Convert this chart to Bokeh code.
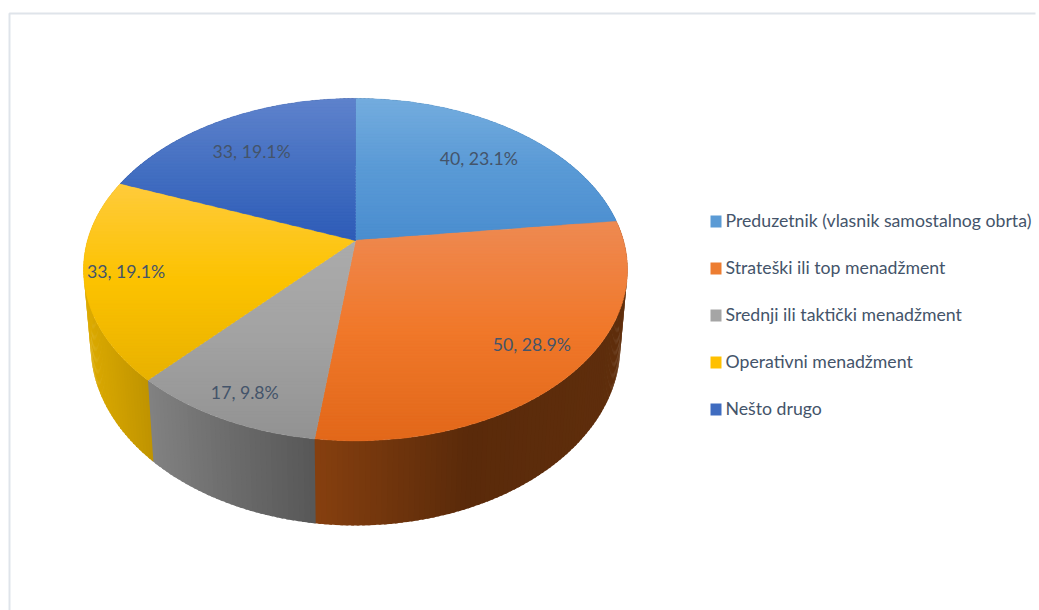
import math
from bokeh.plotting import figure
from bokeh.models import Range1d
from bokeh.core.properties import value
from bokeh.embed import file_html
from bokeh.resources import INLINE

# ---- data ----
categories = ["Preduzetnik (vlasnik samostalnog obrta)", "Strateški ili top menadžment",
              "Srednji ili taktički menadžment", "Operativni menadžment", "Nešto drugo"]
counts = [40, 50, 17, 33, 33]
percents = [23.1, 28.9, 9.8, 19.1, 19.1]

# ---- colours ----
legend_colors = ["#5b9bd5", "#ed7d31", "#a5a5a5", "#ffc000", "#3f6cc0"]
face_stops = [["#74acdf", "#5a9ad6", "#4a8ecf"],
              ["#ee8a52", "#f0782a", "#e2681a"],
              ["#ababab", "#a2a2a2", "#929292"],
              ["#ffcb3c", "#fcc200", "#e8b200"],
              ["#5f82cc", "#4470c2", "#2e5cb8"]]
wall_stops = [["#2f5f8a", "#2f5f8a", "#2f5f8a"],
              ["#87400f", "#5a2a0a", "#5f2e0c"],
              ["#828282", "#6c6c6c", "#585858"],
              ["#dcaa00", "#cfa000", "#c09400"],
              ["#2a4580", "#2a4580", "#2a4580"]]
TEXT = "#44546a"
BORDER = "#dfe4ea"
FONT = value("Lato")

# ---- perspective pie geometry, in page pixels ----
CX = 355.0
K = 0.17
TOP = dict(b=268.0, y0=240.0, a=-125.4)
BOT = dict(b=261.0, y0=314.4, a=-121.3)


def project(plane, t, r=1.0):
    u, v = r * math.sin(t), r * math.cos(t)
    d = 1 + K * v
    return CX + plane["b"] * u / d, (plane["y0"] + plane["a"] * v) / d


def hex2rgb(c):
    return [int(c[i:i + 2], 16) for i in (1, 3, 5)]


def ramp(stops, f):
    f = max(0.0, min(1.0, f)) * (len(stops) - 1)
    i = min(int(f), len(stops) - 2)
    a, b = hex2rgb(stops[i]), hex2rgb(stops[i + 1])
    m = f - i
    return "#%02x%02x%02x" % tuple(round(a[j] + (b[j] - a[j]) * m) for j in range(3))


def clip(poly, y, keep_below):
    out = []
    for i in range(len(poly)):
        p, q = poly[i], poly[(i + 1) % len(poly)]
        pin = (p[1] >= y) if keep_below else (p[1] <= y)
        qin = (q[1] >= y) if keep_below else (q[1] <= y)
        if pin:
            out.append(p)
        if pin != qin:
            m = (y - p[1]) / (q[1] - p[1])
            out.append((p[0] + (q[0] - p[0]) * m, y))
    return out


total = sum(counts)
edges = [0.0]
for c in counts:
    edges.append(edges[-1] + c / total * 2 * math.pi)

p = figure(width=1039, height=610, output_backend="svg", toolbar_location=None,
           x_range=Range1d(0, 1039), y_range=Range1d(610, 0), min_border=0,
           outline_line_color=None)
p.xaxis.visible = False
p.yaxis.visible = False
p.grid.visible = False

# frame of the original screenshot
p.line([9, 9, 1035], [610, 13, 13], line_color=BORDER, line_width=2)

# walls; each strip overlaps the next, so no seam shows between strips or slices
wx, wy, wc = [], [], []
for i in range(len(counts)):
    a0, a1 = edges[i], edges[i + 1]
    n = max(4, int((a1 - a0) / math.radians(1.0)))
    xs_all = [project(TOP, a0 + (a1 - a0) * j / n)[0] for j in range(n + 1)]
    lo, hi = min(xs_all), max(xs_all)
    for j in range(n):
        t0 = a0 + (a1 - a0) * j / n
        t1 = a0 + (a1 - a0) * (j + 1.5) / n
        pts = [project(TOP, t0), project(TOP, t1), project(BOT, t1), project(BOT, t0)]
        wx.append([q[0] for q in pts])
        wy.append([q[1] for q in pts])
        wc.append(ramp(wall_stops[i], (project(TOP, t0)[0] - lo) / (hi - lo)))
p.patches(wx, wy, fill_color=wc, line_color=None)

# top faces, painted as horizontal bands for the vertical gradient
fx, fy, fc = [], [], []
STEP = 3.0
for i in range(len(counts)):
    a0, a1 = edges[i], edges[i + 1]
    n = max(8, int((a1 - a0) / math.radians(0.5)))
    poly = [project(TOP, 0, 0)] + [project(TOP, a0 + (a1 - a0) * j / n) for j in range(n + 1)]
    ys = [q[1] for q in poly]
    y_lo, y_hi = min(ys), max(ys)
    y = y_lo
    while y < y_hi:
        band = clip(clip(poly, y, True), y + STEP + 1, False)
        if len(band) >= 3:
            fx.append([q[0] for q in band])
            fy.append([q[1] for q in band])
            fc.append(ramp(face_stops[i], (y + STEP / 2 - y_lo) / (y_hi - y_lo)))
        y += STEP
p.patches(fx, fy, fill_color=fc, line_color=fc, line_width=0.4)

# data labels
label_r = [0.76, 0.84, 0.85, 0.85, 0.76]
label_dy = [4, -6, 5, -2, 5]
lx, ly, lt = [], [], []
for i in range(len(counts)):
    x, y = project(TOP, (edges[i] + edges[i + 1]) / 2, label_r[i])
    lx.append(x)
    ly.append(y + label_dy[i])
    lt.append(f"{counts[i]}, {percents[i]}%")
p.text(lx, ly, lt, text_font=FONT, text_font_size="17.7px", text_color=TEXT,
       text_align="center", text_baseline="middle")

# legend
LEG_Y0, LEG_DY = 221.0, 47.0
ky = [LEG_Y0 + LEG_DY * i for i in range(len(categories))]
p.rect([715.5] * len(ky), ky, width=11, height=12, fill_color=legend_colors, line_color=None)
p.text([725] * len(ky), [y - 1 for y in ky], categories, text_font=FONT, text_font_size="17.7px",
       text_color=TEXT, text_align="left", text_baseline="middle")

open("out.html", "w").write(file_html(p, INLINE))
